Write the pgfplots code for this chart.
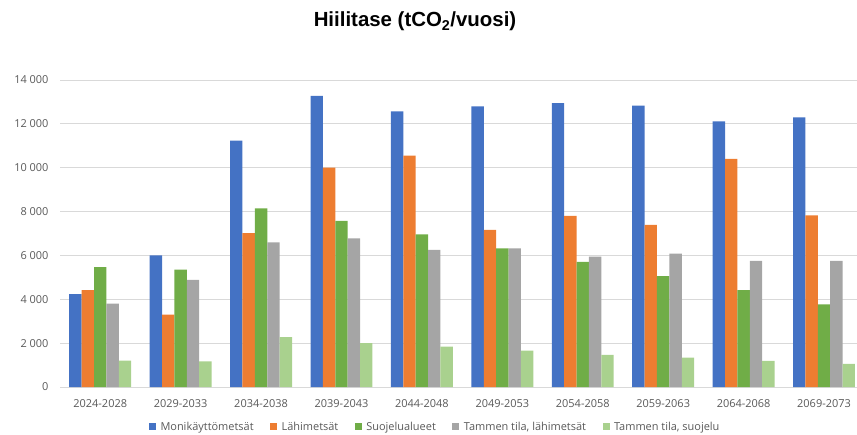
\documentclass[border=0pt]{standalone}
\usepackage{fontspec}
\setmainfont{Open Sans}
\newfontfamily\titlefont{Liberation Sans}
\usepackage{pgfplots}
\usepackage{pgfplotstable}
\pgfplotsset{compat=1.18}
\definecolor{cblue}{HTML}{4472C4}
\definecolor{corange}{HTML}{ED7D31}
\definecolor{cgreen}{HTML}{70AD47}
\definecolor{cgray}{HTML}{A5A5A5}
\definecolor{clight}{HTML}{A9D18E}
\definecolor{gridgray}{HTML}{D9D9D9}
\definecolor{txtgray}{HTML}{595959}

\pgfplotstableread{
x blue orange green gray light
0 4240 4420 5470 3800 1200
1 6000 3300 5350 4880 1170
2 11230 7020 8150 6600 2280
3 13280 10000 7580 6780 2000
4 12570 10550 6960 6250 1840
5 12800 7170 6320 6320 1660
6 12950 7800 5710 5940 1470
7 12830 7390 5060 6080 1340
8 12110 10400 4420 5750 1190
9 12300 7830 3770 5750 1060
}\datatable

\newcommand{\gap}{\rule{12bp}{0pt}}
\begin{document}
\begin{tikzpicture}
\path[use as bounding box] (0,0) rectangle (857bp,435bp);
\node[font=\titlefont\bfseries\fontsize{20.5}{23}\selectfont, anchor=base] at (415bp,408bp) {Hiilitase (tCO\textsubscript{2}/vuosi)};
\begin{axis}[
  at={(60bp,48bp)}, anchor=south west,
  width=797bp, height=307bp, scale only axis,
  xmin=-0.5, xmax=9.41, ymin=0, ymax=14000,
  ybar=0pt, bar width=0.154,
  xtick={0,...,9},
  xticklabels={2024-2028,2029-2033,2034-2038,2039-2043,2044-2048,2049-2053,2054-2058,2059-2063,2064-2068,2069-2073},
  ytick={0,2000,...,14000},
  ymajorgrids,
  grid style={draw=gridgray, line width=0.9pt},
  axis line style={draw=none},
  major tick length=0pt,
  /pgf/number format/assume math mode=true,
  /pgf/number format/1000 sep={\ },
  scaled y ticks=false,
  yticklabel style={font=\fontsize{11}{13}\selectfont, text=txtgray, xshift=-8bp},
  xticklabel style={font=\fontsize{11}{13}\selectfont, text=txtgray, yshift=-9bp},
  legend style={at={(0.4705,-0.1298)}, anchor=center, draw=none, fill=none,
    legend columns=5, font=\fontsize{11}{13}\selectfont, text=txtgray,
    nodes={inner sep=1.5bp}, column sep=3bp},
  legend image code/.code={\fill[#1] (0bp,-3bp) rectangle (7bp,4bp);},
  clip=false,
]
\addplot[fill=cblue, draw=none] table[x=x,y=blue] {\datatable};
\addplot[fill=corange, draw=none] table[x=x,y=orange] {\datatable};
\addplot[fill=cgreen, draw=none] table[x=x,y=green] {\datatable};
\addplot[fill=cgray, draw=none] table[x=x,y=gray] {\datatable};
\addplot[fill=clight, draw=none] table[x=x,y=light] {\datatable};
\legend{Monikäyttömetsät\gap,Lähimetsät\gap,Suojelualueet\gap,{Tammen tila, lähimetsät\gap},{Tammen tila, suojelu}}
\end{axis}
\end{tikzpicture}
\end{document}
